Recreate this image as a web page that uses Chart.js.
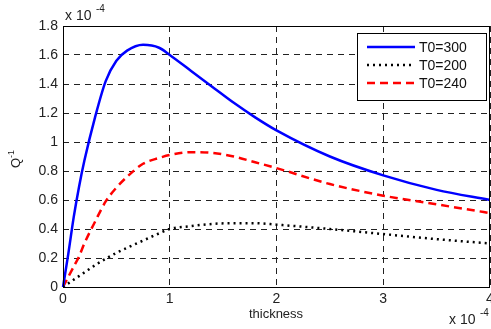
<!DOCTYPE html>
<html>
<head>
<meta charset="utf-8">
<script src="https://cdn.jsdelivr.net/npm/chart.js@4"></script>
<style>
  body { margin: 0; background: #fff; }
  canvas { display: block; }
</style>
</head>
<body>
<canvas id="qChart" width="491" height="329"></canvas>
<script>
// thickness (x 10^-4) and Q^-1 (x 10^-4)
const thickness = [0, 0.05, 0.1, 0.15, 0.2, 0.3, 0.4, 0.5, 0.6, 0.75, 0.9, 1.0, 1.2, 1.4, 1.6, 1.8, 2.0, 2.5, 3.0, 3.5, 4.0];
const q300 = [0, 0.23, 0.48, 0.69, 0.87, 1.17, 1.42, 1.56, 1.63, 1.67, 1.65, 1.60, 1.49, 1.38, 1.27, 1.17, 1.08, 0.90, 0.77, 0.67, 0.60];
const q200 = [0, 0.025, 0.05, 0.075, 0.10, 0.15, 0.195, 0.235, 0.27, 0.32, 0.37, 0.40, 0.42, 0.435, 0.44, 0.44, 0.43, 0.40, 0.365, 0.33, 0.30];
const q240 = [0, 0.07, 0.14, 0.21, 0.30, 0.45, 0.59, 0.685, 0.76, 0.85, 0.89, 0.91, 0.93, 0.925, 0.90, 0.86, 0.82, 0.71, 0.63, 0.57, 0.51];
const seriesLabels = ['T0=300', 'T0=200', 'T0=240'];
const xTicks = [0, 1, 2, 3, 4];
const yTicks = [0, 0.2, 0.4, 0.6, 0.8, 1, 1.2, 1.4, 1.6, 1.8];

const FONT = 'Liberation Sans, Arial, sans-serif';
const pts = ys => thickness.map((x, i) => ({ x: x, y: ys[i] }));

// box, legend and extra texts, drawn like the matlab figure
const decor = {
  id: 'decor',
  afterDraw(chart) {
    const { ctx, chartArea: a } = chart;
    ctx.save();
    ctx.strokeStyle = '#000';
    ctx.lineWidth = 1;
    ctx.setLineDash([]);
    ctx.strokeRect(a.left + 0.5, a.top + 0.5, a.right - a.left - 1, a.bottom - a.top);

    ctx.fillStyle = '#222';
    ctx.textBaseline = 'alphabetic';
    ctx.textAlign = 'left';
    // exponent at top
    ctx.font = '14px ' + FONT;
    ctx.fillText('x 10', a.left + 2, a.top - 6);
    ctx.font = '10px ' + FONT;
    ctx.fillText('-4', a.left + 33, a.top - 14);
    // exponent at bottom right
    ctx.font = '14px ' + FONT;
    ctx.fillText('x 10', 449, 324);
    ctx.font = '10px ' + FONT;
    ctx.fillText('-4', 480, 316);
    // x title
    ctx.font = '13px ' + FONT;
    ctx.textAlign = 'center';
    ctx.fillText('thickness', 276, 318);
    // y title
    ctx.save();
    ctx.translate(20, 160);
    ctx.rotate(-Math.PI / 2);
    ctx.textAlign = 'left';
    ctx.font = '13px ' + FONT;
    ctx.fillText('Q', -8, 0);
    ctx.font = '9px ' + FONT;
    ctx.fillText('-1', 2, -6);
    ctx.restore();

    // legend
    const lx = 357, ly = 33, lw = 129, lh = 67;
    ctx.fillStyle = '#fff';
    ctx.fillRect(lx, ly, lw, lh);
    ctx.strokeStyle = '#000';
    ctx.lineWidth = 1;
    ctx.strokeRect(lx + 0.5, ly + 0.5, lw, lh);
    chart.data.datasets.forEach((ds, i) => {
      const y = ly + 14 + i * 18;
      ctx.strokeStyle = ds.borderColor;
      ctx.lineWidth = ds.borderWidth;
      ctx.setLineDash(ds.borderDash || []);
      ctx.beginPath();
      ctx.moveTo(367, y);
      ctx.lineTo(415, y);
      ctx.stroke();
      ctx.setLineDash([]);
      ctx.fillStyle = '#111';
      ctx.font = '14px ' + FONT;
      ctx.textAlign = 'left';
      ctx.textBaseline = 'middle';
      ctx.fillText(ds.label, 419, y + 1);
    });
    ctx.restore();
  }
};

new Chart(document.getElementById('qChart').getContext('2d'), {
  type: 'line',
  data: {
    datasets: [
      { label: seriesLabels[0], data: pts(q300), borderColor: '#0000ff', borderWidth: 2.5 },
      { label: seriesLabels[1], data: pts(q200), borderColor: '#000000', borderWidth: 2.5, borderDash: [2, 4] },
      { label: seriesLabels[2], data: pts(q240), borderColor: '#ff0000', borderWidth: 2.5, borderDash: [8, 5] }
    ]
  },
  options: {
    responsive: false,
    animation: false,
    clip: false,
    elements: { point: { radius: 0 }, line: { cubicInterpolationMode: 'monotone', fill: false } },
    layout: { padding: { top: 26, right: 1, left: 0, bottom: 0 } },
    plugins: { legend: { display: false }, tooltip: { enabled: false } },
    scales: {
      x: {
        type: 'linear',
        min: 0, max: 4,
        afterBuildTicks: s => { s.ticks = xTicks.map(v => ({ value: v })); },
        afterFit: s => { s.height = 42; s.paddingLeft = 0; s.paddingRight = 0; },
        grid: { color: '#222', drawTicks: false, lineWidth: 1 },
        border: { display: false, dash: [6, 5] },
        ticks: { padding: 4, color: '#222', font: { family: FONT, size: 14 }, maxRotation: 0 }
      },
      y: {
        min: 0, max: 1.8,
        afterBuildTicks: s => { s.ticks = yTicks.map(v => ({ value: v })); },
        afterFit: s => { s.width = 63; s.paddingTop = 0; s.paddingBottom = 0; },
        grid: { color: '#222', drawTicks: false, lineWidth: 1 },
        border: { display: false, dash: [6, 5] },
        ticks: { padding: 5, color: '#222', font: { family: FONT, size: 14 }, callback: v => String(+v.toFixed(1)) }
      }
    }
  },
  plugins: [decor]
});
</script>
</body>
</html>
